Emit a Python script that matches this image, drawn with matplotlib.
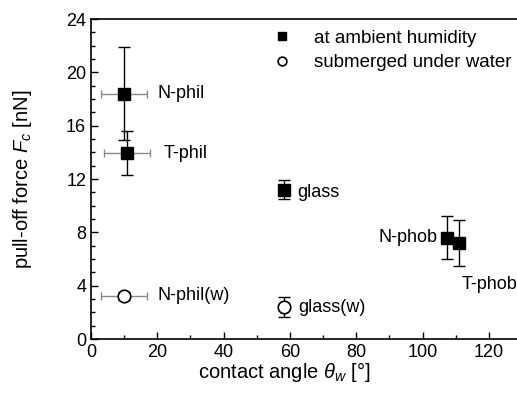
import matplotlib
matplotlib.use("Agg")
from matplotlib import pyplot as plt
from matplotlib.ticker import MultipleLocator

plt.rcParams['font.family'] = ['Liberation Sans', 'DejaVu Sans']
plt.rcParams['mathtext.fontset'] = 'custom'
plt.rcParams['mathtext.it'] = 'Liberation Sans:italic'
plt.rcParams['mathtext.rm'] = 'Liberation Sans'

# ambient humidity
air_names = ['N-phil', 'T-phil', 'glass', 'N-phob', 'T-phob']
air_angle = [10.0, 10.9, 58.3, 107.3, 110.9]
air_angle_err = [7.0, 7.0, 0.0, 0.0, 0.0]
air_force = [18.4, 13.95, 11.2, 7.6, 7.2]
air_force_err = [3.5, 1.65, 0.7, 1.6, 1.7]

# submerged under water
water_names = ['N-phil(w)', 'glass(w)']
water_angle = [10.0, 58.3]
water_angle_err = [7.0, 0.0]
water_force = [3.25, 2.4]
water_force_err = [0.3, 0.75]

# label offsets (points) and alignment
air_offsets = [((24, 0), 'left'), ((26, 0), 'left'), ((9, -2), 'left'),
               ((-7, 0), 'right'), ((2, -30), 'left')]
water_offsets = [((24, 0), 'left'), ((10, 0), 'left')]

fig = plt.figure(figsize=(5.17, 3.99), dpi=100)
ax = fig.add_axes([91 / 517, 60 / 399, 431 / 517, 320 / 399])

# horizontal (gray) and vertical (black) error bars
ax.errorbar(air_angle, air_force, xerr=air_angle_err, fmt='none',
            ecolor='#8a8a8a', elinewidth=1.0, capsize=3)
ax.errorbar(air_angle, air_force, yerr=air_force_err, fmt='none',
            ecolor='black', elinewidth=1.0, capsize=4)
ax.errorbar(water_angle, water_force, xerr=water_angle_err, fmt='none',
            ecolor='#8a8a8a', elinewidth=1.0, capsize=3)
ax.errorbar(water_angle, water_force, yerr=water_force_err, fmt='none',
            ecolor='black', elinewidth=1.0, capsize=4)

ax.plot(air_angle, air_force, 's', color='black', markersize=8,
        label='at ambient humidity')
ax.plot(water_angle, water_force, 'o', markerfacecolor='white',
        markeredgecolor='black', markersize=9, markeredgewidth=1.2,
        label='submerged under water')

for name, x, y, (off, ha) in zip(air_names, air_angle, air_force, air_offsets):
    ax.annotate(name, (x, y), xytext=off, textcoords='offset points',
                ha=ha, va='center', fontsize=13)
for name, x, y, (off, ha) in zip(water_names, water_angle, water_force, water_offsets):
    ax.annotate(name, (x, y), xytext=off, textcoords='offset points',
                ha=ha, va='center', fontsize=13)

ax.set_xlim(0, 130)
ax.set_ylim(0, 24)
ax.xaxis.set_major_locator(MultipleLocator(20))
ax.xaxis.set_minor_locator(MultipleLocator(10))
ax.yaxis.set_major_locator(MultipleLocator(4))
ax.yaxis.set_minor_locator(MultipleLocator(1))
ax.tick_params(which='both', direction='in', labelsize=13, width=1.0)
ax.tick_params(which='major', length=5)
ax.tick_params(which='minor', length=3)
ax.spines['right'].set_visible(False)
for s in ['left', 'bottom', 'top']:
    ax.spines[s].set_linewidth(1.2)

ax.set_xlabel(r'contact angle $\theta_w$ [°]', fontsize=14.5)
ax.set_ylabel(r'pull-off force $F_c$ [nN]', fontsize=14.5)
ax.xaxis.set_label_coords(0.448, -0.066)
ax.yaxis.set_label_coords(-0.132, 0.5)

leg = ax.legend(loc='upper left', bbox_to_anchor=(0.382, 1.02), frameon=False,
                fontsize=13.5, markerscale=0.7, handlelength=1.0,
                handletextpad=1.2, labelspacing=0.4)

fig.savefig('out.png', dpi=100)
plt.close(fig)
